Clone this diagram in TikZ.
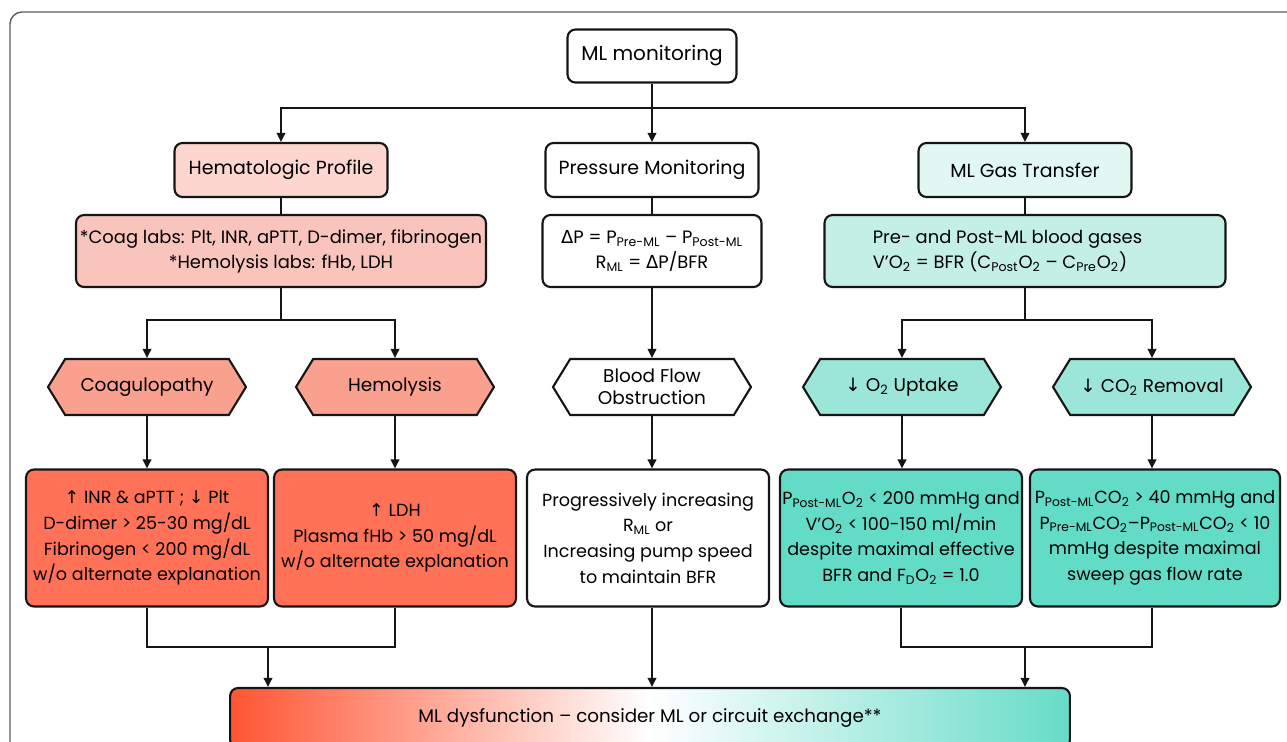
\documentclass[tikz,border=0pt]{standalone}
\usepackage{fontspec}
\setmainfont{Poppins}
\newfontfamily\symfont{DejaVu Sans}
\usetikzlibrary{arrows.meta,positioning,shapes.symbols}
\definecolor{Ink}{HTML}{151515}
\definecolor{Frame}{HTML}{5C5C5C}
\definecolor{RoseHdr}{HTML}{FDD6D0}
\definecolor{RoseLab}{HTML}{F9C4BC}
\definecolor{RoseHex}{HTML}{F9A08F}
\definecolor{RoseOut}{HTML}{FF7258}
\definecolor{MintHdr}{HTML}{E0F7F2}
\definecolor{MintLab}{HTML}{C3EFE6}
\definecolor{MintHex}{HTML}{9BE6D8}
\definecolor{MintOut}{HTML}{62DCC7}
\definecolor{GradL}{HTML}{FF5533}
\definecolor{GradR}{HTML}{66DCC8}
\newcommand{\sbs}[1]{\textsubscript{#1}}
\newcommand{\uparr}{{\symfont ↑}}
\newcommand{\dnarr}{{\symfont ↓}}
\newcommand{\dlt}{{\symfont Δ}}
\tikzset{
  frame/.style={draw=Frame,line width=.8pt,rounded corners=2.4mm},
  box/.style={draw=Ink,line width=1.2pt,rounded corners=1.6mm,fill=white,inner sep=1pt,align=center,font=\fontsize{10}{14.6}\selectfont},
  hdr/.style={box,minimum width=4.26cm,minimum height=1.08cm,font=\fontsize{10.8}{13}\selectfont},
  labs/.style={box,minimum height=1.44cm,font=\fontsize{10.2}{14.2}\selectfont},
  hexa/.style={signal,signal to=west and east,signal pointer angle=117,draw=Ink,line width=1.2pt,fill=white,minimum width=3.96cm,minimum height=1.12cm,inner sep=1pt,align=center,font=\fontsize{10.5}{12.5}\selectfont},
  outcome/.style={box,minimum width=4.84cm,minimum height=2.74cm},
  link/.style={line width=1.1pt,draw=Ink},
  arr/.style={link,-{Triangle[length=1.8mm,width=1.7mm]}}
}
\begin{document}
\begin{tikzpicture}[x=0.02cm,y=-0.02cm]
  \useasboundingbox (0,0) rectangle (1287,741);
  \clip (0,0) rectangle (1287,741);
  \draw[frame] (10,12) rectangle (1320,790);
  % top level
  \node[hdr,minimum width=3.38cm,minimum height=1.06cm,font=\fontsize{11.4}{13}\selectfont] (mlmon) at (652,56) {ML monitoring};
  \node[hdr,fill=RoseHdr] (hemprof) at (281,170) {Hematologic Profile};
  \node[hdr] (presmon) at (652,170) {Pressure Monitoring};
  \node[hdr,fill=MintHdr] (gastr) at (1025,170) {ML Gas Transfer};
  \coordinate (bus) at (652,108);
  \draw[arr] (mlmon) -- (presmon);
  \draw[arr] (bus) -| (hemprof);
  \draw[arr] (bus) -| (gastr);
  % labs
  \node[labs,fill=RoseLab,minimum width=8.2cm] (coag) at (281,251) {*Coag labs: Plt, INR, aPTT, D-dimer, fibrinogen\\*Hemolysis labs: fHb, LDH};
  \node[labs,minimum width=4.38cm] (deltap) at (652,251) {\dlt P = P\sbs{Pre-ML} – P\sbs{Post-ML}\\R\sbs{ML} = \dlt P/BFR};
  \node[labs,fill=MintLab,minimum width=8.02cm,align=left] (pregas) at (1025,251) {Pre- and Post-ML blood gases\\V’O\sbs{2} = BFR (C\sbs{Post}O\sbs{2} – C\sbs{Pre}O\sbs{2})\hspace*{1cm}};
  \draw[link] (hemprof) -- (coag);
  \draw[link] (presmon) -- (deltap);
  \draw[link] (gastr) -- (pregas);
  % hexagons
  \node[hexa,fill=RoseHex] (coagul) at (147,387) {Coagulopathy};
  \node[hexa,fill=RoseHex] (hemol) at (395,387) {Hemolysis};
  \node[hexa] (bfo) at (652,387) {Blood Flow\\Obstruction};
  \node[hexa,fill=MintHex] (o2up) at (902,387) {\dnarr\ O\sbs{2} Uptake};
  \node[hexa,fill=MintHex] (co2rm) at (1152,387) {\dnarr\ CO\sbs{2} Removal};
  \coordinate (lsplit) at (281,320);
  \coordinate (rsplit) at (1025,320);
  \draw[link] (coag) -- (lsplit);
  \draw[arr] (lsplit) -| (coagul);
  \draw[arr] (lsplit) -| (hemol);
  \draw[arr] (deltap) -- (bfo);
  \draw[link] (pregas) -- (rsplit);
  \draw[arr] (rsplit) -| (o2up);
  \draw[arr] (rsplit) -| (co2rm);
  % outcomes
  \node[outcome,fill=RoseOut] (coagout) at (147,538) {\uparr\ INR \& aPTT ; \dnarr\ Plt\\D-dimer > 25-30 mg/dL\\Fibrinogen < 200 mg/dL\\w/o alternate explanation};
  \node[outcome,fill=RoseOut] (hemout) at (395,538) {\uparr\ LDH\\Plasma fHb > 50 mg/dL\\w/o alternate explanation};
  \node[outcome] (bfoout) at (648,538) {Progressively increasing\\R\sbs{ML} or\\Increasing pump speed\\to maintain BFR};
  \node[outcome,fill=MintOut] (o2out) at (901,538) {P\sbs{Post-ML}O\sbs{2} < 200 mmHg and\\V’O\sbs{2} < 100-150 ml/min\\despite maximal effective\\BFR and F\sbs{D}O\sbs{2} = 1.0};
  \node[outcome,fill=MintOut,minimum width=5cm] (co2out) at (1155,538) {P\sbs{Post-ML}CO\sbs{2} > 40 mmHg and\\P\sbs{Pre-ML}CO\sbs{2}–P\sbs{Post-ML}CO\sbs{2} < 10\\mmHg despite maximal\\sweep gas flow rate};
  \draw[arr] (coagul) -- (coagul |- coagout.north);
  \draw[arr] (hemol) -- (hemol |- hemout.north);
  \draw[arr] (bfo) -- (bfo |- bfoout.north);
  \draw[arr] (o2up) -- (o2up |- o2out.north);
  \draw[arr] (co2rm) -- (co2rm |- co2out.north);
  % final
  \node[box,minimum width=16.8cm,minimum height=1.2cm,left color=GradL,right color=GradR,middle color=white,font=\fontsize{10.4}{13}\selectfont] (mldys) at (650,718) {ML dysfunction – consider ML or circuit exchange**};
  \coordinate (lmerge) at (268,647);
  \coordinate (rmerge) at (1025,647);
  \draw[link] (coagout.south) -- (coagout.south |- lmerge) -- (hemout.south |- lmerge) -- (hemout.south);
  \draw[link] (o2out.south) -- (o2out.south |- rmerge) -- (co2rm.south |- rmerge) -- (co2rm.south |- co2out.south);
  \draw[arr] (lmerge) -- (lmerge |- mldys.north);
  \draw[arr] (bfo.south |- bfoout.south) -- (bfo.south |- mldys.north);
  \draw[arr] (rmerge) -- (rmerge |- mldys.north);
\end{tikzpicture}
\end{document}
